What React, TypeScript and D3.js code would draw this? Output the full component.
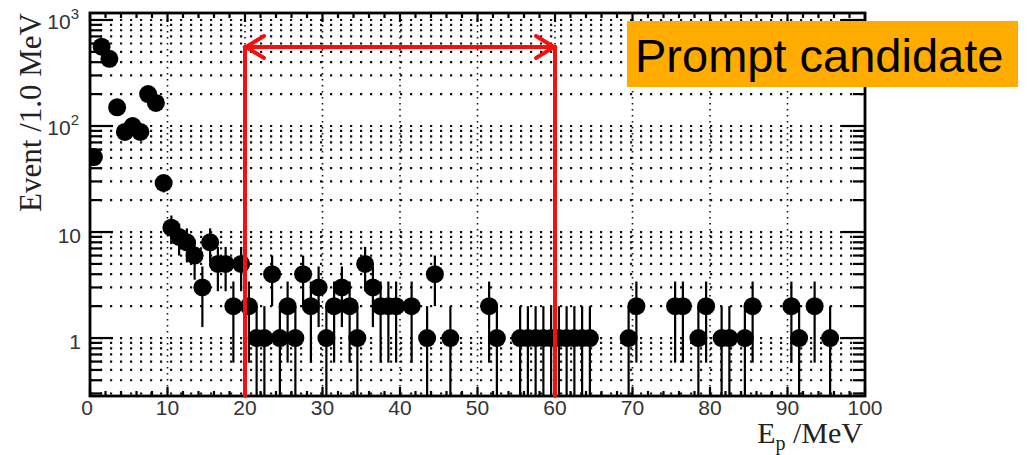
import { scaleLinear, scaleLog, range } from "d3"

// bin centres (MeV) and event counts
const energies = [
  0.5, 1.5, 2.5, 3.5, 4.5, 5.5, 6.5, 7.5, 8.5, 9.5,
  10.5, 11.5, 12.5, 13.5, 14.5, 15.5, 16.5, 17.5, 18.5, 19.5,
  20.5, 21.5, 22.5, 23.5, 24.5, 25.5, 26.5, 27.5, 28.5, 29.5,
  30.5, 31.5, 32.5, 33.5, 34.5, 35.5, 36.5, 37.5, 38.5, 39.5,
  41.5, 43.5, 44.5, 46.5, 51.5, 52.5,
  55.5, 56.5, 57.5, 58.5, 59.5, 60.5, 61.5, 62.5, 63.5, 64.5,
  69.5, 70.5, 75.5, 76.5, 78.5, 79.5, 81.5, 82.5, 84.5, 85.5,
  90.5, 91.5, 93.5, 95.5,
]
const counts = [
  51, 560, 430, 150, 88, 100, 88, 200, 165, 29,
  11, 9, 8, 6, 3, 8, 5, 5, 2, 5,
  2, 1, 1, 4, 1, 2, 1, 4, 2, 3,
  1, 2, 3, 2, 1, 5, 3, 2, 2, 2,
  2, 1, 4, 1, 2, 1,
  1, 1, 1, 1, 1, 1, 1, 1, 1, 1,
  1, 2, 2, 2, 1, 2, 1, 1, 1, 2,
  2, 1, 2, 1,
]
const xTicks = [0, 10, 20, 30, 40, 50, 60, 70, 80, 90, 100]
const yMajor = [1, 10, 100, 1000]
const windowRange = [20, 60]

const W = 1033
const H = 455
const M = { left: 90, top: 13, right: 865, bottom: 396 }
const sans = "Liberation Sans, Arial, sans-serif"
const serif = "Liberation Serif, Times New Roman, serif"
const RED = "#f51010"

function App() {
  const x = scaleLinear().domain([0, 100]).range([M.left, M.right])
  const y = scaleLog().domain([0.284, 1164]).range([M.bottom, M.top])
  const yTicks = y.ticks().filter((t) => t >= 0.284 && t <= 1164)
  const minorX = range(0, 101, 2)
  const arrowY = 47
  const xa = x(windowRange[0])
  const xb = x(windowRange[1])

  const yLabel = (v: number) => {
    if (v === 1) return <tspan>1</tspan>
    if (v === 10) return <tspan>10</tspan>
    const p = Math.round(Math.log10(v))
    return (
      <>
        <tspan>10</tspan>
        <tspan dy={-10} fontSize={15}>{p}</tspan>
      </>
    )
  }

  return (
    <div style={{ position: "absolute", left: 0, top: 0 }}>
      <svg width={W} height={H} viewBox={`0 0 ${W} ${H}`}>
        <rect width={W} height={H} fill="#fff" />
        <defs>
          <clipPath id="plot">
            <rect x={M.left} y={M.top} width={M.right - M.left} height={M.bottom - M.top} />
          </clipPath>
        </defs>

        {/* grid */}
        <g stroke="#111">
          {yTicks.map((t, i) => (
            <line key={i} x1={M.left} x2={M.right} y1={y(t)} y2={y(t)}
              strokeWidth={2.2} strokeDasharray="2.2,7.8" />
          ))}
          {xTicks.slice(1, -1).map((t) => (
            <line key={t} x1={x(t)} x2={x(t)} y1={M.top} y2={M.bottom}
              strokeWidth={1.6} strokeDasharray="1.6,4.4" />
          ))}
        </g>

        {/* ticks */}
        <g stroke="#000" strokeWidth={2.2}>
          {yTicks.map((t, i) => {
            const len = yMajor.includes(t) ? 23 : 12
            return (
              <g key={i}>
                <line x1={M.left} x2={M.left + len} y1={y(t)} y2={y(t)} />
                <line x1={M.right} x2={M.right - len} y1={y(t)} y2={y(t)} />
              </g>
            )
          })}
          {minorX.map((t) => {
            const len = t % 10 === 0 ? 9 : 5
            return (
              <g key={t}>
                <line x1={x(t)} x2={x(t)} y1={M.bottom} y2={M.bottom - len} />
                <line x1={x(t)} x2={x(t)} y1={M.top} y2={M.top + len} />
              </g>
            )
          })}
        </g>

        {/* data */}
        <g clipPath="url(#plot)">
          {energies.map((e, i) => {
            const n = counts[i]
            const err = Math.sqrt(n)
            const lo = n - err > 0.01 ? y(n - err) : M.bottom + 5
            return (
              <line key={i} x1={x(e)} x2={x(e)} y1={lo} y2={y(n + err)}
                stroke="#000" strokeWidth={2.2} />
            )
          })}
          {energies.map((e, i) => (
            <circle key={i} cx={x(e)} cy={y(counts[i])} r={9} fill="#000" />
          ))}
        </g>

        {/* frame */}
        <rect x={M.left} y={M.top} width={M.right - M.left} height={M.bottom - M.top}
          fill="none" stroke="#000" strokeWidth={2.8} />

        {/* prompt window */}
        <g stroke={RED} strokeWidth={4} fill="none" strokeLinecap="round">
          <line x1={xa} x2={xa} y1={M.bottom} y2={arrowY} />
          <line x1={xb} x2={xb} y1={M.bottom} y2={arrowY} />
          <line x1={xa} x2={xb} y1={arrowY} y2={arrowY} />
          <polyline points={`${xa + 19},${arrowY - 11} ${xa + 1},${arrowY} ${xa + 19},${arrowY + 11}`} />
          <polyline points={`${xb - 19},${arrowY - 11} ${xb - 1},${arrowY} ${xb - 19},${arrowY + 11}`} />
        </g>

        {/* tick labels */}
        {xTicks.map((t) => (
          <text key={t} x={x(t) - (t === 0 ? 3 : 0)} y={415} textAnchor="middle"
            fontFamily={sans} fontSize={21} fill="#333">{t}</text>
        ))}
        {yMajor.map((t) => (
          <text key={t} x={t >= 100 ? 79 : 81} y={y(t) + (t >= 100 ? 9 : 11)} textAnchor="end"
            fontFamily={sans} fontSize={21} fill="#333">
            {yLabel(t)}
          </text>
        ))}

        {/* axis titles */}
        <text fontFamily={serif} fontSize={30} x={863} y={443} textAnchor="end" fill="#222">
          E<tspan dy={7} fontSize={20}>p</tspan><tspan dy={-7}> /MeV</tspan>
        </text>
        <text fontFamily={serif} fontSize={31} fill="#222" textAnchor="end"
          transform="translate(41,13) rotate(-90)">
          Event /1.0 MeV
        </text>

        {/* label box */}
        <rect x={627} y={21} width={391} height={66} fill="#ffab00" />
        <text x={635} y={72} fontFamily={sans} fontSize={47} fill="#000">Prompt candidate</text>
      </svg>
    </div>
  )
}

export default App
